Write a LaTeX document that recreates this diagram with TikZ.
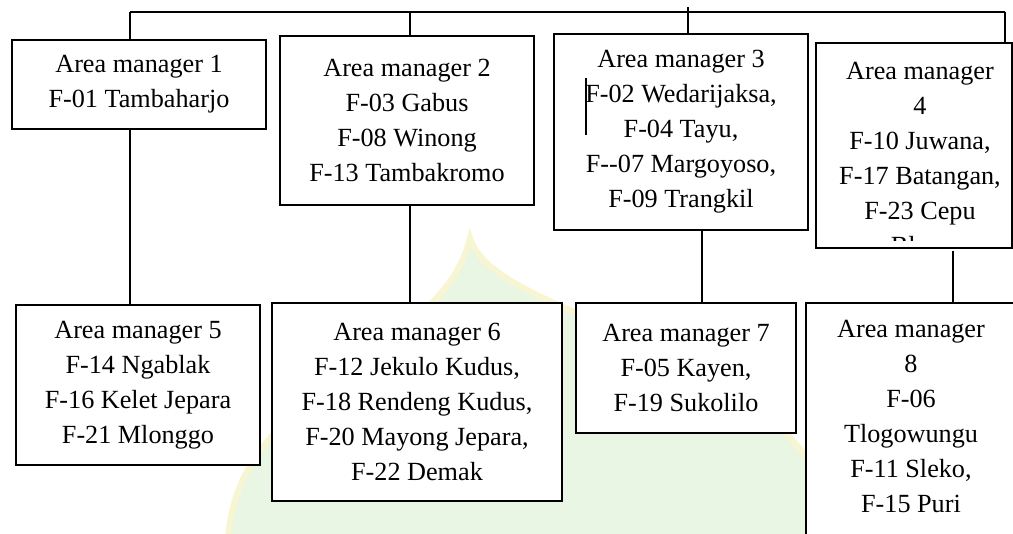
\documentclass[tikz,border=0pt]{standalone}
\usepackage{fontspec}
\setmainfont{Liberation Serif}
\usetikzlibrary{calc}
\definecolor{wmgreen}{RGB}{234,246,228}
\definecolor{wmyellow}{RGB}{248,245,210}
\begin{document}
\begin{tikzpicture}[x=1pt,y=-1pt,
  box/.style={draw=black, fill=white, line width=1.8pt, inner sep=0pt, align=center,
              font=\fontsize{26.2}{35}\selectfont},
  txt/.style={inner sep=0pt, align=center, font=\fontsize{26.2}{35}\selectfont},
  wire/.style={draw=black, line width=1.8pt},
  wm/.style={fill=wmgreen, draw=wmyellow, line width=6pt}]
\clip (0,0) rectangle (1013,534);
\fill[white] (0,0) rectangle (1013,534);
% faint watermark
\path[wm] (470,238) .. controls (490,300) and (640,320) .. (760,410)
   .. controls (810,450) and (840,500) .. (845,540) -- (228,540)
   .. controls (232,480) and (260,440) .. (320,390)
   .. controls (400,330) and (455,300) .. (470,238) -- cycle;
% boxes
\node[box, minimum width=254pt, minimum height=89pt]  (am1) at (139,84.5) {Area manager 1\\F-01 Tambaharjo};
\node[box, minimum width=254pt, minimum height=169pt] (am2) at (407,120.5) {Area manager 2\\F-03 Gabus\\F-08 Winong\\F-13 Tambakromo};
\node[box, minimum width=254pt, minimum height=196pt] (am3) at (681,132) {Area manager 3\\F-02 Wedarijaksa,\\F-04 Tayu,\\F-{}-07 Margoyoso,\\F-09 Trangkil};
\node[box, minimum width=196pt, minimum height=205pt] (am4) at (914,145.5) {};
\begin{scope}
  \clip (816,43) rectangle (1013,241);
  \node[txt, anchor=north] (am4t) at (920,62.5) {Area manager\\4\\F-10 Juwana,\\F-17 Batangan,\\F-23 Cepu\\Blora};
\end{scope}
\node[box, minimum width=244pt, minimum height=160pt] (am5) at (138,385) {Area manager 5\\F-14 Ngablak\\F-16 Kelet Jepara\\F-21 Mlonggo};
\node[box, minimum width=290pt, minimum height=198pt] (am6) at (417,402) {Area manager 6\\F-12 Jekulo Kudus,\\F-18 Rendeng Kudus,\\F-20 Mayong Jepara,\\F-22 Demak};
\node[box, minimum width=220pt, minimum height=130pt] (am7) at (686,368) {Area manager 7\\F-05 Kayen,\\F-19 Sukolilo};
\node[box, minimum width=212pt, minimum height=257pt] (am8) at (912,431.5) {};
\node[txt, anchor=north] (am8t) at (911,320.5) {Area manager\\8\\F-06\\Tlogowungu\\F-11 Sleko,\\F-15 Puri};
% connectors
\coordinate (busL) at (130,12);
\coordinate (busR) at (1005,12);
\coordinate (s2) at (410,12);
\coordinate (s3) at (688,7);
\coordinate (s7) at (702,0);
\coordinate (s8) at (953,251);
\draw[wire] (busL) -- (busR);
\draw[wire] (busL) -- (busL |- am1.north);
\draw[wire] (s2) -- (s2 |- am2.north);
\draw[wire] (s3) -- (s3 |- am3.north);
\draw[wire] (busR) -- (busR |- am4.north);
\draw[wire] (busL |- am1.south) -- (busL |- am5.north);
\draw[wire] (s2 |- am2.south) -- (s2 |- am6.north);
\draw[wire] (s7 |- am3.south) -- (s7 |- am7.north);
\draw[wire] (s8) -- (s8 |- am8.north);
% stray mark in box 3
\coordinate (st1) at (586,78);
\coordinate (st2) at (586,135);
\draw[wire] (st1) -- (st2);
\end{tikzpicture}
\end{document}
